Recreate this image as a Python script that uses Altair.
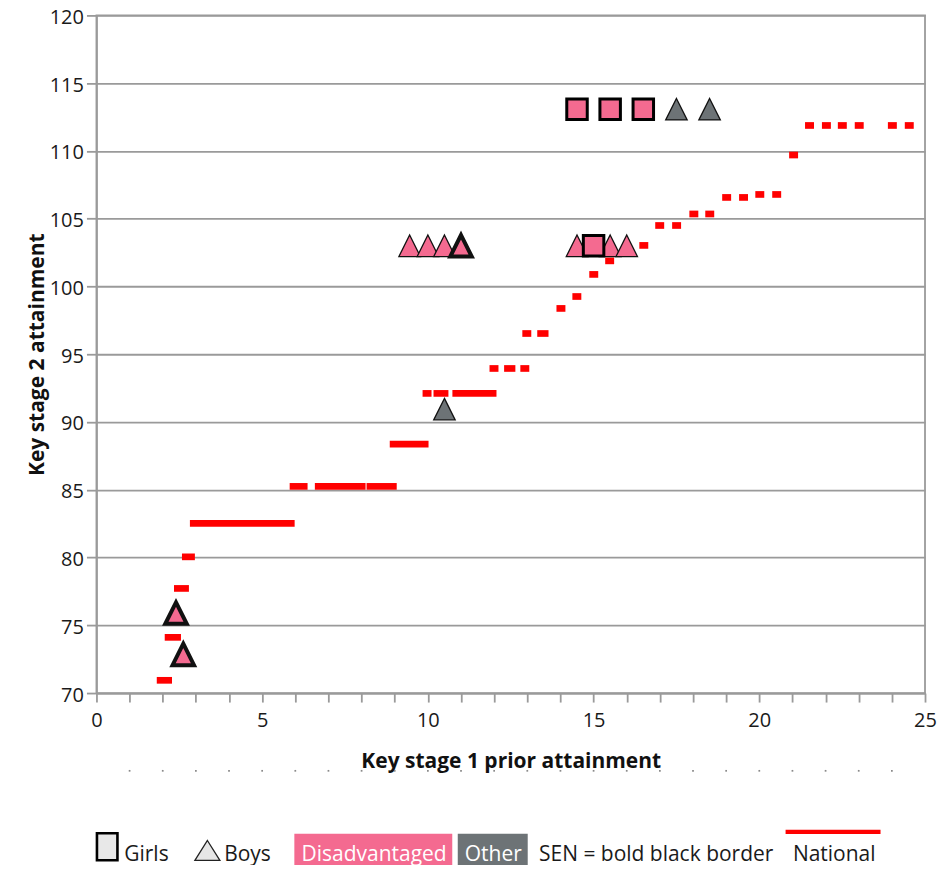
import altair as alt
import pandas as pd

# ---------------- data ----------------
# National line: horizontal dashes (KS1 start, KS1 end, KS2 value)
nat_x0 = [1.82, 2.06, 2.34, 2.58, 2.82,
          5.83, 6.59, 8.15,
          8.85,
          9.84, 10.17, 10.74,
          11.86, 12.30, 12.79,
          12.85, 13.30,
          13.88, 14.36, 14.87, 15.35, 16.38,
          16.86, 17.37,
          17.89, 18.37,
          18.88, 19.39,
          19.88, 20.39,
          20.90,
          21.38, 21.89, 22.37, 22.88, 23.88, 24.39]
nat_x1 = [2.28, 2.55, 2.79, 2.97, 5.98,
          6.37, 8.12, 9.06,
          10.02,
          10.11, 10.62, 12.07,
          12.13, 12.64, 13.06,
          13.12, 13.64,
          14.15, 14.63, 15.14, 15.62, 16.65,
          17.13, 17.64,
          18.16, 18.64,
          19.15, 19.66,
          20.15, 20.66,
          21.17,
          21.65, 22.16, 22.64, 23.15, 24.15, 24.66]
nat_y = [70.94, 74.11, 77.72, 80.05, 82.52,
         85.25, 85.25, 85.25,
         88.37,
         92.11, 92.11, 92.11,
         93.95, 93.95, 93.95,
         96.53, 96.53,
         98.38, 99.26, 100.89, 101.89, 103.03,
         104.50, 104.50,
         105.35, 105.35,
         106.57, 106.57,
         106.79, 106.79,
         109.70,
         111.88, 111.88, 111.88, 111.88, 111.88, 111.88]

# Pupils
pupil_ks1 = [2.40, 2.62, 9.45, 10.0, 10.5, 11.0, 10.5, 14.5, 15.5, 16.0, 17.5, 18.5,
             15.0, 14.5, 15.5, 16.5]
pupil_ks2 = [75.9, 72.85, 103.0, 103.0, 103.0, 103.0, 90.95, 103.0, 103.0, 103.0, 113.08, 113.08,
             103.0, 113.08, 113.08, 113.08]
pupil_gender = ["Boy"] * 12 + ["Girl"] * 4
pupil_group = ["Disadvantaged", "Disadvantaged", "Disadvantaged", "Disadvantaged",
               "Disadvantaged", "Disadvantaged", "Other", "Disadvantaged",
               "Disadvantaged", "Disadvantaged", "Other", "Other",
               "Disadvantaged", "Disadvantaged", "Disadvantaged", "Disadvantaged"]
pupil_sen = ["Yes", "Yes", "No", "No", "No", "Yes", "No", "No", "No", "No", "No", "No",
             "Yes", "Yes", "Yes", "Yes"]

x_tick_values = list(range(0, 26))
y_tick_values = list(range(70, 121, 5))
minor_ticks = list(range(1, 25))
group_names = ["Disadvantaged", "Other"]
legend_labels = ["Girls", "Boys", "Disadvantaged", "Other", "SEN = bold black border", "National"]

# ---------------- styles ----------------
PINK = "#F46A90"
GREY = "#6D7376"
RED = "#FF0000"
AX = "#9A9A9A"
FONT = "Open Sans"
TXT = "#1a1a1a"

national = pd.DataFrame({"x0": nat_x0, "x1": nat_x1, "y": nat_y})
pupils = pd.DataFrame({"ks1": pupil_ks1, "ks2": pupil_ks2, "gender": pupil_gender,
                       "group": pupil_group, "sen": pupil_sen})

x_scale = alt.Scale(domain=[0, 25], nice=False, zero=False)
y_scale = alt.Scale(domain=[70, 120], nice=False, zero=False)

x_axis = alt.Axis(values=x_tick_values,
                  labelExpr="datum.value % 5 === 0 ? datum.label : ''",
                  title="Key stage 1 prior attainment", grid=False,
                  tickSize=9, tickWidth=1.8, tickColor=AX,
                  domainColor=AX, domainWidth=1.8,
                  labelFont=FONT, labelFontSize=20, labelColor=TXT, labelPadding=8,
                  labelFlush=False, labelOverlap=False,
                  titleFont=FONT, titleFontSize=21, titleFontWeight="bold",
                  titleColor="#111111", titlePadding=20)
y_axis = alt.Axis(values=y_tick_values, title="Key stage 2 attainment",
                  grid=True, gridColor=AX, gridWidth=1.8,
                  tickSize=10, tickWidth=1.8, tickColor=AX,
                  domainColor=AX, domainWidth=1.8,
                  labelFont=FONT, labelFontSize=20, labelColor=TXT, labelPadding=3,
                  labelOffset=2, labelOverlap=False,
                  titleFont=FONT, titleFontSize=21, titleFontWeight="bold",
                  titleColor="#111111", titlePadding=2)

X = lambda f: alt.X(f, scale=x_scale, axis=x_axis)
Y = lambda f: alt.Y(f, scale=y_scale, axis=y_axis)

nat_layer = alt.Chart(national).mark_rule(color=RED, strokeWidth=6.7, strokeCap="butt").encode(
    x=X("x0:Q"), x2="x1:Q", y=Y("y:Q"))

dots = alt.Chart(pd.DataFrame({"t": minor_ticks})).mark_square(
    size=3, color="#8a8a8a", opacity=1).encode(x=X("t:Q"), y=alt.value(755.8))

pupil_base = alt.Chart(pupils).transform_calculate(
    bw="datum.sen === 'Yes' ? (datum.gender === 'Girl' ? 3 : 4) : 1.3")
fill_enc = alt.Fill("group:N", scale=alt.Scale(domain=group_names, range=[PINK, GREY]), legend=None)

tri = pupil_base.transform_filter("datum.gender === 'Boy'").mark_point(
    shape="M0,-1L1,1L-1,1Z", size=462, filled=True, opacity=1, stroke="#111111").encode(
    x=X("ks1:Q"), y=Y("ks2:Q"), fill=fill_enc,
    strokeWidth=alt.StrokeWidth("bw:Q", scale=None))

sq = pupil_base.transform_filter("datum.gender === 'Girl'").mark_point(
    shape="square", size=420, filled=True, opacity=1, stroke="#000000").encode(
    x=X("ks1:Q"), y=Y("ks2:Q"), fill=fill_enc,
    strokeWidth=alt.StrokeWidth("bw:Q", scale=None))

# ---------------- legend (drawn below the plot) ----------------
LY = 845.6


def one(label):
    return pd.DataFrame({"label": [label]})


def legend_text(label, x, color=TXT):
    return alt.Chart(one(label)).mark_text(
        align="left", baseline="alphabetic", font=FONT, fontSize=21, color=color).encode(
        x=alt.value(x), y=alt.value(LY), text="label:N")


def legend_box(label, x0, x1, y0, y1, fill, stroke=None, sw=0):
    kw = dict(fill=fill, opacity=1)
    if stroke is not None:
        kw.update(stroke=stroke, strokeWidth=sw)
    return alt.Chart(one(label)).mark_rect(**kw).encode(
        x=alt.value(x0), x2=alt.value(x1), y=alt.value(y0), y2=alt.value(y1))


leg_girl_icon = legend_box("girl", 0.5, 21, 818.3, 845.3, "#e8e8e8", "#000000", 2.6)
leg_boy_icon = alt.Chart(one("boy")).mark_point(
    shape="M0,-0.8L1,0.8L-1,0.8Z", size=625, filled=True, fill="#e6e6e6", opacity=1,
    stroke="#222222", strokeWidth=1.3).encode(x=alt.value(111), y=alt.value(835.5))
leg_dis_box = legend_box("dis", 198, 356, 818.8, 858, PINK)
leg_oth_box = legend_box("oth", 361.5, 431.5, 818.8, 858, GREY)
leg_nat_line = alt.Chart(one("nat")).mark_rule(color=RED, strokeWidth=4.3, strokeCap="butt").encode(
    x=alt.value(689.5), x2=alt.value(784.5), y=alt.value(816.8))

legend_layers = [
    leg_girl_icon, leg_boy_icon, leg_dis_box, leg_oth_box, leg_nat_line,
    legend_text(legend_labels[0], 27.8),
    legend_text(legend_labels[1], 127.8),
    legend_text(legend_labels[2], 205.2, "#ffffff"),
    legend_text(legend_labels[3], 368.5, "#ffffff"),
    legend_text(legend_labels[4], 442.8),
    legend_text(legend_labels[5], 696.8),
]

chart = alt.layer(nat_layer, dots, tri, sq, *legend_layers).properties(
    width=829, height=678,
    autosize=alt.AutoSizeParams(type="none"),
    padding={"left": 88.5, "top": 7.2, "right": 15, "bottom": 172},
).configure_view(stroke=AX, strokeWidth=1.8)

chart.save("out.html", embed_options={"renderer": "svg", "actions": False})
